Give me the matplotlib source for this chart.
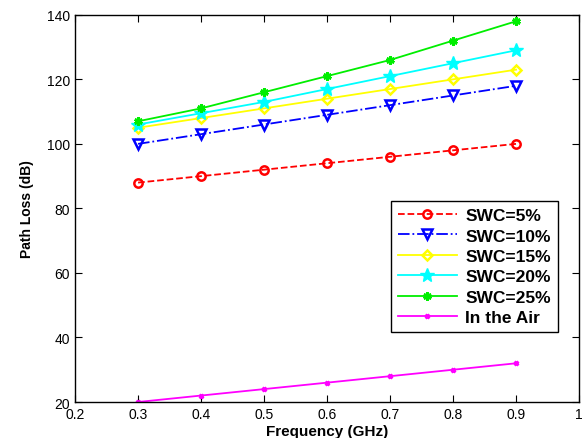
import numpy as np
import matplotlib.pyplot as plt

plt.rcParams['font.family'] = ['Liberation Sans', 'DejaVu Sans']

freq = [0.3, 0.4, 0.5, 0.6, 0.7, 0.8, 0.9]
swc5 = [88, 90, 92, 94, 96, 98, 100]
swc10 = [100, 103, 106, 109, 112, 115, 118]
swc15 = [105, 108, 111, 114, 117, 120, 123]
swc20 = [106, 109.5, 113, 117, 121, 125, 129]
swc25 = [107, 111, 116, 121, 126, 132, 138]
air = [20, 22, 24, 26, 28, 30, 32]

fig = plt.figure(figsize=(5.82, 4.39), dpi=100)
ax = fig.add_axes([0.129, 0.082, 0.866, 0.882])

ax.plot(freq, swc5, 'r--o', mfc='none', ms=6, mew=1.8, lw=1.3, label='SWC=5%')
ax.plot(freq, swc10, color='b', ls='-.', marker='v', mfc='none', ms=7, mew=1.8, lw=1.3, label='SWC=10%')
ax.plot(freq, swc15, color='#ffff00', marker='D', mfc='none', ms=5.5, mew=1.8, lw=1.3, label='SWC=15%')
ax.plot(freq, swc20, color='#00ffff', marker='*', ms=10, lw=1.3, label='SWC=20%')
ax.plot(freq, swc25, color='#00ee00', marker=(6, 2, 0), ms=6, mew=2, lw=1.3, label='SWC=25%')
ax.plot(freq, air, color='#ff00ff', marker='x', ms=3.5, mew=2, lw=1.3, label='In the Air')

ax.set_xlim(0.2, 1.0)
ax.set_ylim(20, 140)
ax.set_xticks(np.arange(0.2, 1.01, 0.1))
ax.set_xticklabels(['0.2', '0.3', '0.4', '0.5', '0.6', '0.7', '0.8', '0.9', '1'])
ax.set_yticks(range(20, 141, 20))
ax.tick_params(direction='in', top=True, right=True, labelsize=10, length=5)
for s in ax.spines.values():
    s.set_linewidth(1)

ax.set_xlabel('Frequency (GHz)', fontsize=11, fontweight='bold', labelpad=2)
ax.set_ylabel('Path Loss (dB)', fontsize=10, fontweight='bold', labelpad=9)

leg = ax.legend(loc='upper right', bbox_to_anchor=(0.958, 0.519), borderaxespad=0, numpoints=1,
                prop={'weight': 'bold', 'size': 12.5}, fancybox=False, edgecolor='black',
                handlelength=3.4, borderpad=0.4, labelspacing=0.3, handletextpad=0.5, framealpha=1)
leg.get_frame().set_linewidth(1)

fig.savefig('out.png', dpi=100)
